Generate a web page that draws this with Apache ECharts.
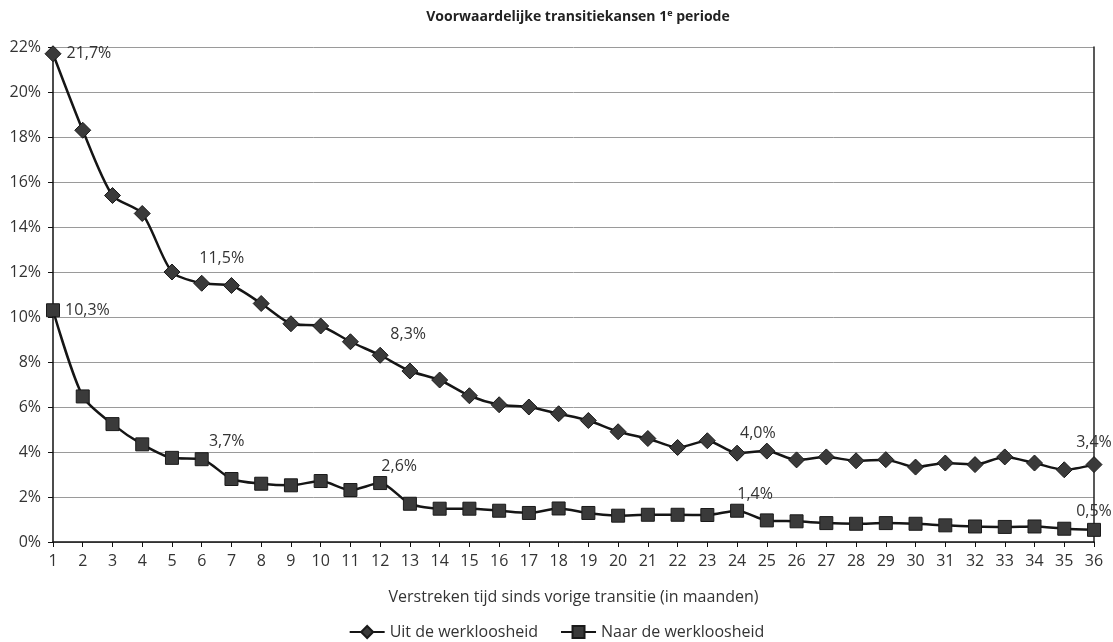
<!DOCTYPE html>
<html>
<head>
<meta charset="utf-8">
<script src="https://cdn.jsdelivr.net/npm/echarts@6/dist/echarts.min.js"></script>
<style>
  html, body { margin: 0; padding: 0; background: #fff; }
  #chart { width: 1113px; height: 642px; }
</style>
</head>
<body>
<div id="chart"></div>
<script>
// months since previous transition
const months = Array.from({ length: 36 }, (_, i) => String(i + 1));

// conditional transition probabilities (%)
const uitWerkloosheid = [
  21.7, 18.3, 15.4, 14.6, 12.0, 11.5, 11.4, 10.6, 9.7, 9.6,
  8.9, 8.3, 7.6, 7.2, 6.5, 6.1, 6.0, 5.7, 5.4, 4.9,
  4.6, 4.2, 4.5, 3.95, 4.04, 3.65, 3.78, 3.61, 3.66, 3.33,
  3.51, 3.44, 3.78, 3.51, 3.21, 3.44
];
const naarWerkloosheid = [
  10.3, 6.47, 5.24, 4.34, 3.74, 3.68, 2.8, 2.59, 2.52, 2.71,
  2.31, 2.62, 1.7, 1.48, 1.48, 1.39, 1.29, 1.49, 1.29, 1.17,
  1.21, 1.21, 1.2, 1.39, 0.96, 0.92, 0.84, 0.81, 0.84, 0.81,
  0.74, 0.69, 0.67, 0.69, 0.59, 0.54
];
const yTicks = [0, 2, 4, 6, 8, 10, 12, 14, 16, 18, 20, 22];

// which points get a value label, and where it sits (dx, dy from default 'top')
const uitLabels = { 0: 'right', 5: [20, -3], 11: [28, 1], 24: [-9, 4], 35: [0, -1] };
const naarLabels = { 0: 'right', 5: [25, 2], 11: [19, 3], 23: [18, 4], 35: [0, 2] };

const FONT = 'Open Sans, Noto Sans, sans-serif';
const fmt = (v) => v.toFixed(1).replace('.', ',') + '%';

function withLabels(vals, labels) {
  return vals.map((v, i) => {
    const l = labels[i];
    if (!l) return v;
    if (l === 'right') {
      return { value: v, label: { show: true, position: 'right', distance: 5 } };
    }
    return { value: v, label: { show: true, position: 'top', offset: l } };
  });
}

const chart = echarts.init(document.getElementById('chart'), null, { renderer: 'canvas' });

const labelStyle = { color: '#333', fontSize: 16, fontFamily: FONT, formatter: (p) => fmt(p.value) };

chart.setOption({
  animation: false,
  backgroundColor: '#fff',
  textStyle: { fontFamily: FONT },
  title: {
    text: '{a|Voorwaardelijke transitiekansen 1}{s|e}{a| periode}',
    left: 573, textAlign: 'center', top: 4,
    textStyle: {
      rich: {
        a: { fontSize: 14, fontWeight: 'bold', color: '#222', fontFamily: FONT },
        s: { fontSize: 9, fontWeight: 'bold', color: '#222', fontFamily: FONT, verticalAlign: 'top', padding: [0, 0, 7, 0] }
      }
    }
  },
  grid: { left: 53, right: 19, top: 47, bottom: 100 },
  legend: {
    top: 619, left: 'center',
    itemWidth: 35, itemHeight: 15, itemGap: 22,
    textStyle: { fontSize: 16, color: '#333', fontFamily: FONT },
    data: ['Uit de werkloosheid', 'Naar de werkloosheid']
  },
  xAxis: {
    type: 'category', data: months, boundaryGap: false,
    name: 'Verstreken tijd sinds vorige transitie (in maanden)',
    nameLocation: 'middle', nameGap: 47,
    nameTextStyle: { fontSize: 16, color: '#333', fontFamily: FONT },
    axisLine: { lineStyle: { color: '#111', width: 1.5 } },
    axisTick: { show: true, alignWithLabel: true, length: 5, lineStyle: { color: '#111' } },
    axisLabel: { fontSize: 16, color: '#333', margin: 11, interval: 0 },
    splitLine: { show: false }
  },
  yAxis: [{
    type: 'value', min: 0, max: 22, interval: 2,
    axisLine: { show: true, lineStyle: { color: '#111', width: 1.5 } },
    axisTick: { show: true, length: 5, lineStyle: { color: '#111' } },
    axisLabel: { fontSize: 16, color: '#333', margin: 12, formatter: (v) => yTicks.includes(v) ? v + '%' : '' },
    splitLine: { lineStyle: { color: '#9a9a9a', width: 1 } }
  }, {
    type: 'value', min: 0, max: 22, interval: 2, position: 'right',
    axisLine: { show: true, lineStyle: { color: '#222', width: 1.5 } },
    axisTick: { show: false }, axisLabel: { show: false }, splitLine: { show: false }
  }],
  series: [{
    name: 'Uit de werkloosheid', type: 'line', smooth: 0.25,
    data: withLabels(uitWerkloosheid, uitLabels),
    symbol: 'diamond', symbolSize: 16,
    lineStyle: { color: '#151515', width: 2.5 },
    itemStyle: { color: '#3a3a3a', borderColor: '#1a1a1a', borderWidth: 1 },
    label: labelStyle, z: 3
  }, {
    name: 'Naar de werkloosheid', type: 'line', smooth: 0.25,
    data: withLabels(naarWerkloosheid, naarLabels),
    symbol: 'rect', symbolSize: 13,
    lineStyle: { color: '#151515', width: 2.5 },
    itemStyle: { color: '#3a3a3a', borderColor: '#1a1a1a', borderWidth: 1 },
    label: labelStyle, z: 3
  }]
});
</script>
</body>
</html>
